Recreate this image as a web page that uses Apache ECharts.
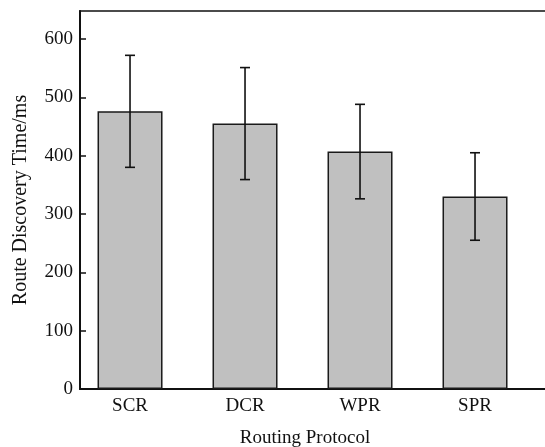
<!DOCTYPE html>
<html>
<head>
<meta charset="utf-8">
<script src="https://cdn.jsdelivr.net/npm/echarts@6/dist/echarts.min.js"></script>
<style>
html,body{margin:0;padding:0;background:#fff;}
#chart{width:545px;height:447px;}
</style>
</head>
<body>
<div id="chart"></div>
<script>
var categories = ['SCR', 'DCR', 'WPR', 'SPR'];
var meanValues = [476, 455, 407, 330];
var errorValues = [96, 96, 81, 75];
var yTicks = [0, 100, 200, 300, 400, 500, 600];

var positions = categories.map(function (c, i) { return i + 1; });
var barData = positions.map(function (p, i) { return [p, meanValues[i]]; });
var errData = positions.map(function (p, i) { return [p, meanValues[i] - errorValues[i], meanValues[i] + errorValues[i]]; });

var chart = echarts.init(document.getElementById('chart'), null, {renderer: 'canvas'});
var font = '"Liberation Serif", "Times New Roman", serif';
chart.setOption({
  backgroundColor: '#ffffff',
  animation: false,
  grid: {left: 80, width: 470, top: 11, height: 378, show: true, borderColor: '#111', borderWidth: 1.5,
         containLabel: false, outerBoundsMode: 'none'},
  xAxis: {
    type: 'value', min: 0.565, max: 4.652,
    name: 'Routing Protocol', nameLocation: 'middle', nameGap: 40,
    nameTextStyle: {fontFamily: font, fontSize: 19, color: '#111', padding: [0, 20, 0, 0]},
    axisLine: {show: true, lineStyle: {color: '#111', width: 2}},
    axisTick: {show: false},
    splitLine: {show: false},
    axisLabel: {customValues: positions, fontFamily: font, fontSize: 19, color: '#111', margin: 8,
      formatter: function (v) { return categories[Math.round(v) - 1] || ''; }}
  },
  yAxis: {
    type: 'value', min: 0, max: 648,
    name: 'Route Discovery Time/ms', nameLocation: 'middle', nameGap: 49,
    nameTextStyle: {fontFamily: font, fontSize: 20, color: '#111'},
    axisLine: {show: true, lineStyle: {color: '#111', width: 2}},
    axisTick: {show: true, inside: true, length: 6, customValues: yTicks, lineStyle: {color: '#111', width: 1.5}},
    splitLine: {show: false},
    axisLabel: {customValues: yTicks, fontFamily: font, fontSize: 19, color: '#111', margin: 7}
  },
  series: [
    {
      type: 'bar', data: barData, barWidth: 65,
      itemStyle: {color: '#c0c0c0', borderColor: '#1a1a1a', borderWidth: 1.5}
    },
    {
      type: 'custom', data: errData, z: 10,
      renderItem: function (params, api) {
        var x = api.value(0);
        var lo = api.coord([x, api.value(1)]);
        var hi = api.coord([x, api.value(2)]);
        var hw = 5;
        var st = {stroke: '#111', lineWidth: 1.6};
        return {type: 'group', children: [
          {type: 'line', shape: {x1: lo[0], y1: lo[1], x2: hi[0], y2: hi[1]}, style: st},
          {type: 'line', shape: {x1: lo[0] - hw, y1: lo[1], x2: lo[0] + hw, y2: lo[1]}, style: st},
          {type: 'line', shape: {x1: hi[0] - hw, y1: hi[1], x2: hi[0] + hw, y2: hi[1]}, style: st}
        ]};
      }
    }
  ]
});
</script>
</body>
</html>
